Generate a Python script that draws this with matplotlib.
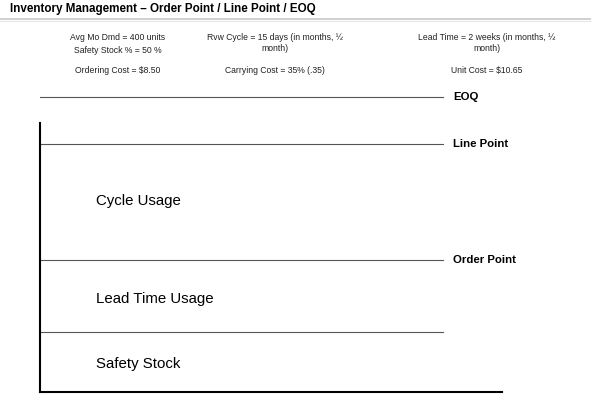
import matplotlib
matplotlib.use("Agg")
import matplotlib.pyplot as plt

'''
Inventory levels diagram: EOQ / Line Point / Order Point / Safety Stock.
Coordinates are in image pixels (591 x 405), y grows downward.
'''

plt.rcParams['font.family'] = ['Liberation Sans', 'DejaVu Sans']

title = "Inventory Management \u2013 Order Point / Line Point / EOQ"

# header parameters: (x centre, y, text)
param_x = [118, 275, 487]
param_row1 = ["Avg Mo Dmd = 400 units", "Rvw Cycle = 15 days (in months, \u00bd\nmonth)",
              "Lead Time = 2 weeks (in months, \u00bd\nmonth)"]
param_row1b = ["Safety Stock % = 50 %", "", ""]
param_row2 = ["Ordering Cost = $8.50", "Carrying Cost = 35% (.35)", "Unit Cost = $10.65"]

# level lines (pixel y) and their labels
level_y = [97, 144, 260, 332]
level_labels = ["EOQ", "Line Point", "Order Point", ""]

# zones between the lines
zone_y = [201, 299, 364]
zone_labels = ["Cycle Usage", "Lead Time Usage", "Safety Stock"]


def main():
    fig = plt.figure(figsize=(5.91, 4.05), dpi=100)
    ax = fig.add_axes([0, 0, 1, 1])
    ax.set_xlim(0, 591)
    ax.set_ylim(405, 0)
    ax.axis("off")

    ax.text(10, 9, title, fontsize=8.4, fontweight="bold", va="center", ha="left")
    ax.plot([0, 591], [19, 19], color="#c8c8c8", linewidth=1.2)
    ax.plot([0, 591], [20.5, 20.5], color="#e6e6e6", linewidth=0.8)

    for x, t1, t1b, t2 in zip(param_x, param_row1, param_row1b, param_row2):
        ax.text(x, 33, t1, fontsize=6.2, ha="center", va="top", color="#222222", linespacing=1.3)
        if t1b:
            ax.text(x, 46, t1b, fontsize=6.2, ha="center", va="top", color="#222222")
        ax.text(x, 66, t2, fontsize=6.2, ha="center", va="top", color="#222222")

    for y, lab in zip(level_y, level_labels):
        ax.plot([40, 443], [y, y], color="#555555", linewidth=0.8)
        if lab:
            ax.text(453, y, lab, fontsize=8.2, fontweight="bold", va="center", ha="left")

    # axes of the diagram
    ax.plot([40, 40], [123, 392], color="black", linewidth=1.5)
    ax.plot([40, 502], [392, 392], color="black", linewidth=1.5)

    for y, lab in zip(zone_y, zone_labels):
        ax.text(96, y, lab, fontsize=10.8, va="center", ha="left")

    fig.savefig("out.png", dpi=100)


if __name__ == "__main__":
    main()
